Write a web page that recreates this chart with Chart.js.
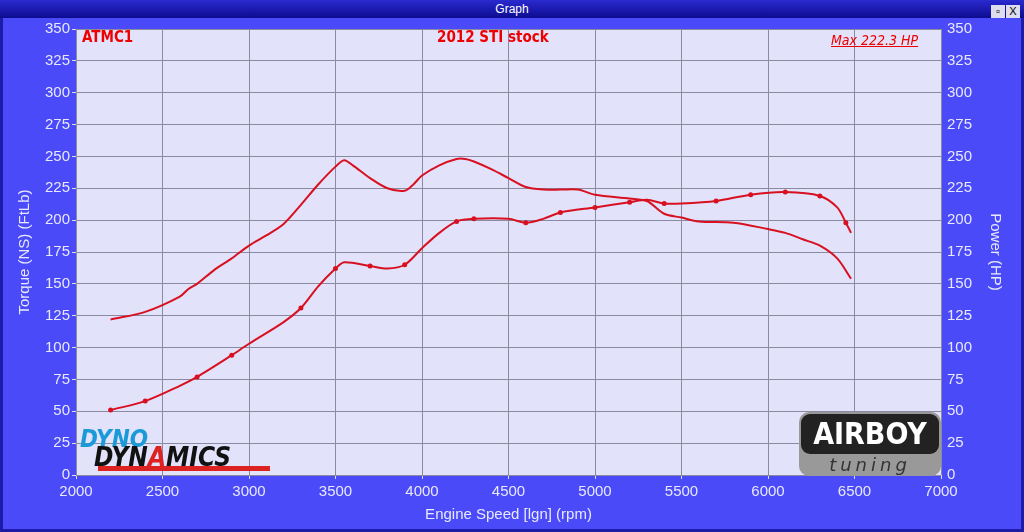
<!DOCTYPE html>
<html>
<head>
<meta charset="utf-8">
<script src="https://cdn.jsdelivr.net/npm/chart.js@4.4.0/dist/chart.umd.min.js"></script>
<style>
  body { margin: 0; width: 1024px; height: 532px; overflow: hidden; background: #10106a; font-family: "Liberation Sans", Arial, sans-serif; }
  #frame { position: absolute; left: 0; top: 0; width: 1024px; height: 532px; background: #4a4af8; box-sizing: border-box; border: 3px solid #1c1ca8; border-top: none; }
  #titlebar { position: absolute; left: 0; top: 0; width: 1024px; height: 18px; background: linear-gradient(#2a2ad0, #0c0c90); color: #fff; font-size: 12px; text-align: center; line-height: 18px; }
  #btns { position: absolute; right: 4px; top: 2px; }
  #btns span { display: inline-block; width: 14px; height: 13px; background: #dde; color: #000; font-size: 11px; line-height: 13px; margin-left: 1px; }
  #wrap { position: absolute; left: 0; top: 18px; width: 1024px; height: 514px; }
  .lbl { position: absolute; color: #e00; font-weight: bold; font-size: 15px; font-family: "DejaVu Sans Condensed", "Liberation Sans Narrow", sans-serif; }
  .logo { position: absolute; font-family: "DejaVu Sans Condensed", sans-serif; font-weight: bold; font-style: italic; }
</style>
</head>
<body>
<div id="frame"></div>
<div id="titlebar">Graph<div id="btns"><span>&#9643;</span><span>X</span></div></div>
<div id="wrap"><canvas id="c" width="1024" height="514"></canvas></div>
<div class="lbl" style="left:82px;top:28px;">ATMC1</div>
<div class="lbl" style="left:437px;top:28px;">2012 STI stock</div>
<div class="lbl" style="left:831px;top:32px;font-style:italic;text-decoration:underline;font-weight:normal;font-size:14px;">Max 222.3 HP</div>
<div class="logo" style="left:80px;top:425px;color:#1a9ad8;font-size:24px;">DYNO</div>
<div class="logo" style="left:94px;top:442px;color:#111;font-size:26px;">DYN<span style="color:#d22">A</span>MICS</div>
<div style="position:absolute;left:98px;top:466px;width:172px;height:5px;background:#d22;"></div>
<div style="position:absolute;left:799px;top:412px;width:142px;height:64px;background:#999;border-radius:10px;"></div>
<div style="position:absolute;left:801px;top:414px;width:138px;height:40px;background:#222;border-radius:9px;color:#fff;font:bold 30px 'DejaVu Sans Condensed',sans-serif;text-align:center;line-height:40px;">AIRBOY</div>
<div style="position:absolute;left:801px;top:454px;width:138px;height:20px;color:#333;font:italic 18px 'DejaVu Sans',sans-serif;text-align:center;letter-spacing:4px;">tuning</div>
<script>
const rpm =    [2200,2400,2600,2650,2700,2800,2900,3000,3100,3200,3300,3400,3500,3550,3600,3700,3800,3900,3950,4000,4100,4200,4250,4300,4400,4500,4600,4700,4800,4900,5000,5200,5300,5400,5500,5600,5800,6000,6100,6200,6300,6400,6480];
const torque = [122,128,140,146,150,161,170,180,188,197,212,228,242,247,243,233,225,223,228,235,243,248,248,246,240,233,226,224,224,224,220,217,215,205,202,199,198,193,190,185,180,170,154];
const powerRpm = [2200,2400,2600,2700,2900,3000,3200,3300,3400,3500,3550,3700,3800,3900,4000,4100,4200,4300,4500,4600,4700,4800,5000,5200,5300,5400,5500,5700,5900,6100,6300,6400,6450,6480];
const power =    [51,58,70,77,94,103,120,131,148,162,167,164,162,165,178,190,199,201,201,198,201,206,210,214,216,213,213,215,220,222,219,210,198,190];
const marked = [2200,2400,2700,2900,3300,3500,3700,3900,4200,4300,4600,4800,5000,5200,5400,5700,5900,6100,6300,6450];
const yTicks = [0,25,50,75,100,125,150,175,200,225,250,275,300,325,350];

const tickFont = { family: "Liberation Sans", size: 15 };
const tickColor = '#e8e8ff';
new Chart(document.getElementById('c'), {
  type: 'line',
  data: {
    datasets: [
      { data: rpm.map((x, i) => ({ x, y: torque[i] })), borderColor: '#d81020', borderWidth: 2, pointRadius: 0, tension: 0.3, yAxisID: 'y' },
      { data: powerRpm.map((x, i) => ({ x, y: power[i] })), borderColor: '#d81020', borderWidth: 2, tension: 0.3, yAxisID: 'y2',
        pointRadius: ctx => marked.includes(powerRpm[ctx.dataIndex]) ? 2.5 : 0, pointBackgroundColor: '#d81020', pointBorderWidth: 0 }
    ]
  },
  options: {
    animation: false, responsive: false,
    layout: { padding: { top: 5, right: 6, bottom: 6, left: 0 } },
    plugins: { legend: { display: false }, tooltip: { enabled: false } },
    scales: {
      x: { type: 'linear', min: 2000, max: 7000,
        ticks: { stepSize: 500, color: tickColor, font: tickFont, padding: 4, callback: v => String(v) },
        grid: { color: '#8a8aa0', tickLength: 4, tickColor: '#ddd' }, border: { display: false },
        title: { display: true, text: 'Engine Speed [lgn] (rpm)', color: tickColor, font: tickFont, padding: 2 },
        afterFit: s => { s.height = 51; } },
      y: { position: 'left', min: 0, max: 350,
        afterBuildTicks: s => { s.ticks = yTicks.map(v => ({ value: v })); },
        ticks: { color: tickColor, font: tickFont, padding: 2 },
        grid: { color: '#8a8aa0', tickLength: 4, tickColor: '#ddd' }, border: { display: false },
        title: { display: true, text: 'Torque (NS) (FtLb)', color: tickColor, font: tickFont, padding: { top: 16, bottom: 0 } },
        afterFit: s => { s.width = 76; } },
      y2: { position: 'right', min: 0, max: 350,
        afterBuildTicks: s => { s.ticks = yTicks.map(v => ({ value: v })); },
        ticks: { color: tickColor, font: tickFont, padding: 2 },
        grid: { display: false, tickLength: 4 }, border: { display: false },
        title: { display: true, text: 'Power (HP)', color: tickColor, font: tickFont, padding: { top: 14, bottom: 0 } },
        afterFit: s => { s.width = 77; } }
    }
  },
  plugins: [{
    id: 'bg',
    beforeDraw: c => {
      const a = c.chartArea, g = c.ctx;
      g.save(); g.fillStyle = '#e2e2fa'; g.fillRect(a.left, a.top, a.right - a.left, a.bottom - a.top); g.restore();
    }
  }]
});
</script>
</body>
</html>
